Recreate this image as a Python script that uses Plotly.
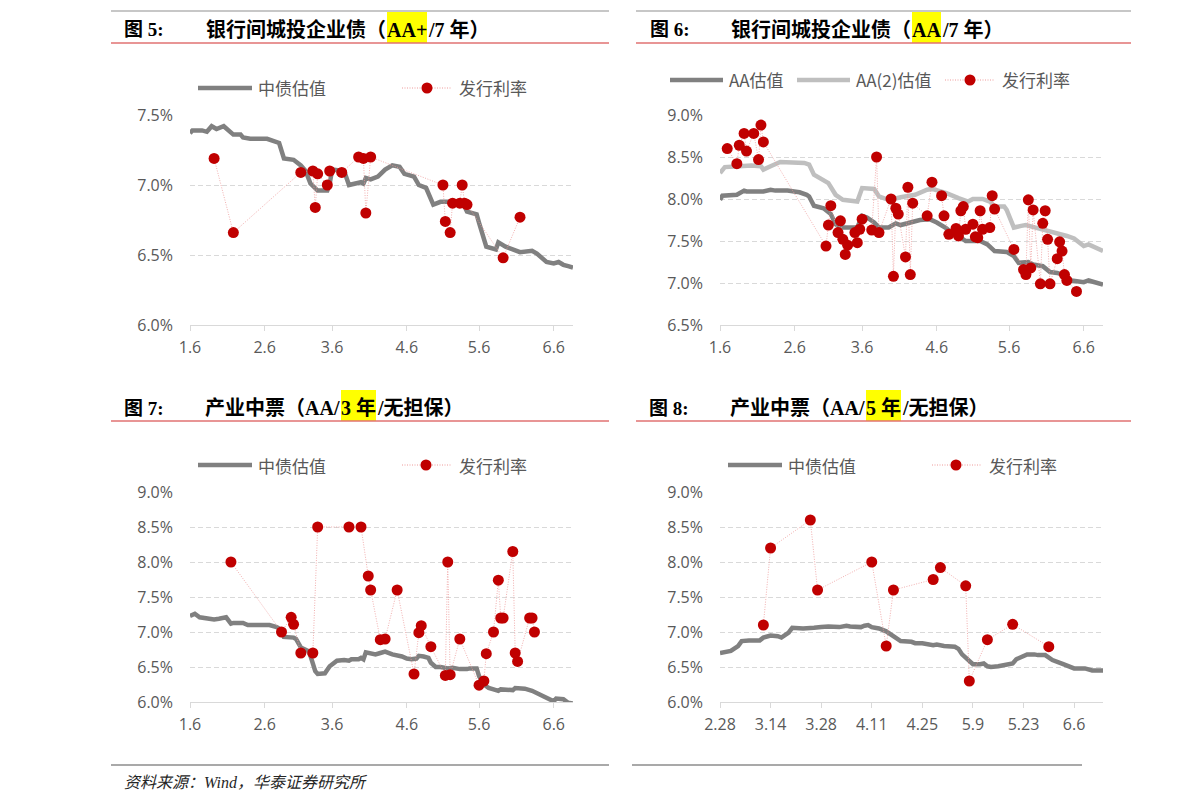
import plotly.graph_objects as go

YEAR = 2018
W, H = 1191, 811          # target picture size
PAGE_MARGIN = 8           # browser default body margin
FW, FH = W - 2 * PAGE_MARGIN, H - 2 * PAGE_MARGIN

# ---------------- data (values in %) ----------------
# Fig 5: AA+ / 7Y
f5_val_dates = ["01-06","01-07","01-09","01-11","01-13","01-15","01-17","01-20","01-24","01-27","01-28","01-31",
                "02-07","02-11","02-12","02-14","02-18","02-21","02-23","02-25","02-28","03-04","03-05","03-06",
                "03-11","03-13","03-17","03-18","03-19","03-20","03-22","03-25","03-28","03-31","04-03","04-05",
                "04-09","04-11","04-14","04-17","04-20","04-29","05-01","05-05","05-06","05-09","05-13","05-14",
                "05-17","05-23","05-28","05-30","06-03","06-06","06-08","06-10","06-12","06-14"]
f5_val = [7.37,7.39,7.39,7.39,7.38,7.42,7.40,7.42,7.36,7.36,7.34,7.33,
          7.33,7.31,7.30,7.19,7.18,7.14,7.10,7.01,6.96,6.96,7.01,7.11,
          7.10,7.00,7.01,7.02,7.01,7.05,7.04,7.06,7.11,7.14,7.13,7.08,
          7.06,7.00,6.98,6.86,6.88,6.88,6.81,6.79,6.73,6.56,6.54,6.59,
          6.56,6.52,6.53,6.51,6.45,6.44,6.45,6.43,6.42,6.41]
f5_iss_dates = ["01-16","01-24","02-21","02-26","02-27","02-28","03-04","03-05","03-10","03-17","03-19","03-20",
                "03-22","04-21","04-22","04-24","04-25","04-28","04-29","04-30","05-01","05-16","05-23"]
f5_iss = [7.19,6.66,7.09,7.10,6.84,7.08,7.00,7.10,7.09,7.20,7.19,6.80,
          7.20,7.00,6.74,6.66,6.87,6.87,7.00,6.87,6.86,6.48,6.77]

# Fig 6: AA / 7Y
f6_aa_dates = ["01-06","01-07","01-13","01-14","01-16","01-17","01-23","01-24","01-27","01-29","02-03","02-08",
               "02-11","02-12","02-14","02-18","02-21","02-23","02-25","03-04","03-06","03-08","03-11","03-13",
               "03-17","03-19","03-20","03-22","03-26","03-30","04-03","04-06","04-10","04-12","04-15","04-17",
               "04-18","04-24","04-27","04-30","05-05","05-08","05-10","05-14","05-16","05-20","05-23","05-26",
               "05-29","06-01","06-06","06-08","06-11","06-14"]
f6_aa = [7.99,8.04,8.05,8.07,8.10,8.09,8.10,8.09,8.11,8.10,8.10,8.08,
         8.05,8.03,7.92,7.89,7.82,7.70,7.66,7.66,7.80,7.78,7.72,7.66,
         7.66,7.69,7.71,7.69,7.72,7.75,7.76,7.72,7.65,7.60,7.56,7.52,
         7.50,7.50,7.46,7.38,7.37,7.32,7.24,7.25,7.22,7.20,7.13,7.12,
         7.09,7.03,7.01,7.03,7.00,6.98]
f6_aa2_dates = ["01-06","01-08","01-14","01-19","01-23","01-24","01-27","01-31","02-10","02-12","02-14","02-16",
                "02-20","02-23","02-26","03-04","03-05","03-06","03-11","03-13","03-16","03-19","03-22","03-28",
                "04-02","04-04","04-10","04-13","04-15","04-19","04-21","04-25","04-28","04-30","05-04","05-05",
                "05-08","05-11","05-13","05-17","05-23","05-27","05-30","06-02","06-06","06-08","06-11","06-14"]
f6_aa2 = [8.31,8.38,8.39,8.40,8.39,8.35,8.39,8.44,8.43,8.41,8.29,8.26,
          8.19,8.05,7.99,7.97,8.05,8.13,8.12,8.03,8.00,8.00,8.02,8.05,
          8.11,8.12,8.07,8.03,8.01,7.97,8.00,8.00,7.97,7.91,7.91,7.87,
          7.66,7.68,7.69,7.66,7.62,7.58,7.56,7.53,7.44,7.46,7.42,7.38]
f6_iss_dates = ["01-09","01-13","01-14","01-16","01-17","01-20","01-22","01-23","01-24","02-19","02-20","02-21",
                "02-24","02-25","02-26","02-27","02-28","03-03","03-04","03-05","03-06","03-10","03-12","03-13",
                "03-18","03-19","03-20","03-21","03-24","03-25","03-26","03-27","04-02","04-04","04-08","04-09",
                "04-11","04-14","04-15","04-16","04-17","04-18","04-21","04-22","04-23","04-24","04-25","04-28",
                "04-29","04-30","05-08","05-12","05-13","05-14","05-15","05-16","05-19","05-20","05-21","05-22",
                "05-23","05-26","05-27","05-28","05-29","05-30","06-03"]
f6_iss = [8.60,8.42,8.64,8.78,8.57,8.78,8.47,8.88,8.68,7.44,7.69,7.92,
          7.60,7.74,7.52,7.34,7.45,7.60,7.48,7.64,7.76,7.63,8.50,7.60,
          8.00,7.08,7.89,7.82,7.31,8.14,7.10,7.95,7.80,8.20,8.04,7.80,
          7.58,7.65,7.56,7.86,7.91,7.64,7.70,7.55,7.54,7.86,7.64,7.66,
          8.04,7.88,7.40,7.16,7.10,7.99,7.18,7.87,6.99,7.71,7.86,7.52,
          6.99,7.29,7.49,7.38,7.10,7.03,6.90]

# Fig 7: AA / 3Y, unsecured
f7_val_dates = ["01-06","01-08","01-10","01-13","01-16","01-18","01-21","01-23","01-24","01-28","01-30","02-08",
                "02-11","02-13","02-14","02-18","02-19","02-21","02-23","02-24","02-25","02-27","02-28","03-03",
                "03-05","03-07","03-08","03-11","03-13","03-14","03-17","03-18","03-19","03-20","03-22","03-24",
                "03-26","03-28","03-31","04-02","04-04","04-06","04-08","04-10","04-11","04-13","04-15","04-16",
                "04-18","04-20","04-23","04-25","04-28","05-01","05-02","05-05","05-06","05-08","05-10","05-12",
                "05-14","05-15","05-20","05-21","05-23","05-25","05-28","05-31","06-03","06-06","06-07","06-10",
                "06-12","06-14"]
f7_val = [7.23,7.26,7.21,7.19,7.18,7.19,7.21,7.12,7.13,7.13,7.10,7.10,
          7.07,7.03,6.93,6.92,6.90,6.78,6.74,6.73,6.66,6.44,6.40,6.41,
          6.51,6.56,6.59,6.60,6.59,6.61,6.61,6.63,6.61,6.71,6.69,6.68,
          6.70,6.72,6.68,6.67,6.65,6.62,6.61,6.62,6.66,6.65,6.63,6.56,
          6.50,6.50,6.48,6.49,6.47,6.47,6.48,6.48,6.37,6.25,6.20,6.18,
          6.16,6.18,6.17,6.20,6.20,6.19,6.16,6.11,6.05,6.01,6.05,6.04,
          5.99,5.98]
f7_iss_dates = ["01-23","02-13","02-17","02-18","02-21","02-26","02-28","03-13","03-18","03-21","03-22","03-26",
                "03-28","04-02","04-09","04-11","04-12","04-16","04-22","04-23","04-24","04-28","05-06","05-08",
                "05-09","05-12","05-14","05-15","05-16","05-20","05-21","05-22","05-27","05-28","05-29"]
f7_iss = [8.00,7.00,7.21,7.11,6.70,6.70,8.50,8.50,8.50,7.80,7.60,6.89,
          6.90,7.60,6.40,6.99,7.09,6.79,6.38,8.00,6.39,6.90,6.24,6.30,
          6.69,7.00,7.74,7.20,7.20,8.15,6.70,6.58,7.20,7.20,7.00]

# Fig 8: AA / 5Y, unsecured
f8_val_dates = ["02-28","03-02","03-03","03-05","03-06","03-08","03-11","03-12","03-14","03-16","03-17","03-19",
                "03-20","03-23","03-25","03-26","03-28","03-30","04-02","04-04","04-05","04-08","04-09","04-10",
                "04-11","04-13","04-15","04-16","04-18","04-19","04-22","04-23","04-25","04-28","04-29","04-30",
                "05-01","05-04","05-05","05-06","05-08","05-09","05-11","05-12","05-13","05-14","05-16","05-18",
                "05-20","05-21","05-23","05-24","05-26","05-27","05-29","05-30","05-31","06-03","06-05","06-06",
                "06-09","06-10","06-11","06-14"]
f8_val = [6.70,6.71,6.73,6.80,6.87,6.88,6.88,6.92,6.95,6.94,6.92,6.99,
          7.06,7.05,7.05,7.06,7.07,7.08,7.07,7.09,7.08,7.07,7.09,7.10,
          7.07,7.05,7.01,6.97,6.89,6.87,6.86,6.84,6.84,6.81,6.82,6.81,
          6.80,6.79,6.76,6.68,6.60,6.54,6.54,6.55,6.51,6.50,6.51,6.53,
          6.55,6.61,6.66,6.68,6.68,6.67,6.67,6.64,6.60,6.54,6.50,6.48,
          6.48,6.47,6.45,6.45]
f8_iss_dates = ["03-12","03-14","03-25","03-27","04-11","04-15","04-17","04-28","04-30","05-07","05-08","05-13",
                "05-20","05-30"]
f8_iss = [7.10,8.20,8.60,7.60,8.00,6.80,7.60,7.75,7.92,7.66,6.30,6.89,7.11,6.79]

# axis ticks
ticks_a = ["01-06","02-06","03-06","04-06","05-06","06-06"]
ticktext_a = ["1.6","2.6","3.6","4.6","5.6","6.6"]
ticks_b = ["02-28","03-14","03-28","04-11","04-25","05-09","05-23","06-06"]
ticktext_b = ["2.28","3.14","3.28","4.11","4.25","5.9","5.23","6.6"]

titles = [
    ("图 5:", "银行间城投企业债（", "AA+", "/7 年）"),
    ("图 6:", "银行间城投企业债（", "AA", "/7 年）"),
    ("图 7:", "产业中票（AA/", "3 年", "/无担保）"),
    ("图 8:", "产业中票（AA/", "5 年", "/无担保）"),
]
legend_val = "中债估值"
legend_iss = "发行利率"
source_text = "资料来源：Wind，华泰证券研究所"


def D(lst):
    return [f"{YEAR}-{d}" for d in lst]


# ---------------- style ----------------
GRAY = "#808080"
LGRAY = "#bfbfbf"
RED = "#c00000"
DOT = "#ee9a9a"
TXT = "#595959"
TICKFONT = dict(family="Open Sans, Noto Sans CJK SC", size=16, color=TXT)
LEGFONT = dict(family="Noto Sans CJK SC", size=17, color=TXT)
LABELFONT = dict(family="Liberation Serif, Noto Sans CJK SC", size=19, color="#000000", weight="bold")
TITLEFONT = dict(family="Liberation Serif, Noto Sans CJK SC", size=20, color="#000000", weight="bold")


# screen-pixel -> paper coordinates (figure sits inside the page margin)
def px(x):
    return (x - PAGE_MARGIN) / FW


def py(y):
    return 1 - (y - PAGE_MARGIN) / FH


fig = go.Figure()


def add_line(x, y, color, ax):
    fig.add_trace(go.Scatter(x=D(x), y=y, mode="lines", line=dict(color=color, width=4.5),
                             xaxis="x" + ax, yaxis="y" + ax, showlegend=False, hoverinfo="skip"))


def add_iss(x, y, ax):
    fig.add_trace(go.Scatter(x=D(x), y=y, mode="lines+markers",
                             line=dict(color=DOT, width=0.8, dash="1px,1.5px"),
                             marker=dict(size=11, color=RED),
                             cliponaxis=False,
                             xaxis="x" + ax, yaxis="y" + ax, showlegend=False, hoverinfo="skip"))


add_line(f5_val_dates, f5_val, GRAY, "")
add_iss(f5_iss_dates, f5_iss, "")
add_line(f6_aa_dates, f6_aa, GRAY, "2")
add_line(f6_aa2_dates, f6_aa2, LGRAY, "2")
add_iss(f6_iss_dates, f6_iss, "2")
add_line(f7_val_dates, f7_val, GRAY, "3")
add_iss(f7_iss_dates, f7_iss, "3")
add_line(f8_val_dates, f8_val, GRAY, "4")
add_iss(f8_iss_dates, f8_iss, "4")

# panel geometry (screen pixels)
LEFT = (190, 573)
RIGHT = (720, 1103)
TOP = (115, 325)
BOT = (492, 702)

panels = [
    dict(xd=LEFT, yd=TOP, yr=[6.0, 7.5], xr=["01-06", "06-14"], tv=ticks_a, tt=ticktext_a),
    dict(xd=RIGHT, yd=TOP, yr=[6.5, 9.0], xr=["01-06", "06-14"], tv=ticks_a, tt=ticktext_a),
    dict(xd=LEFT, yd=BOT, yr=[6.0, 9.0], xr=["01-06", "06-14"], tv=ticks_a, tt=ticktext_a),
    dict(xd=RIGHT, yd=BOT, yr=[6.0, 9.0], xr=["02-28", "06-14"], tv=ticks_b, tt=ticktext_b),
]

layout = dict(width=FW, height=FH, margin=dict(l=0, r=0, t=0, b=0, pad=0, autoexpand=False),
              autosize=False,
              paper_bgcolor="white", plot_bgcolor="white", showlegend=False)
for i, p in enumerate(panels):
    s = "" if i == 0 else str(i + 1)
    layout["xaxis" + s] = dict(
        domain=[px(p["xd"][0]), px(p["xd"][1])], anchor="y" + s, type="date",
        range=D(p["xr"]), tickvals=D(p["tv"]), ticktext=p["tt"],
        showgrid=False, zeroline=False, showline=True, linecolor="#d9d9d9", linewidth=1,
        ticks="outside", ticklen=5, tickcolor="#d9d9d9", tickfont=TICKFONT,
        ticklabelstandoff=3, automargin=False, fixedrange=True)
    layout["yaxis" + s] = dict(
        domain=[py(p["yd"][1]), py(p["yd"][0])], anchor="x" + s, range=p["yr"],
        tick0=6.0, dtick=0.5, tickformat=".1f", ticksuffix="%",
        showgrid=True, gridcolor="#d9d9d9", gridwidth=1, griddash="5px,3px",
        zeroline=False, showline=False, ticks="", tickfont=TICKFONT,
        ticklabelstandoff=16, automargin=False, fixedrange=True)
fig.update_layout(**layout)

shapes = []
annotations = []


def hline(x0, x1, y, color, width, dash="solid"):
    shapes.append(dict(type="line", xref="paper", yref="paper", x0=px(x0), x1=px(x1),
                       y0=py(y), y1=py(y), line=dict(color=color, width=width, dash=dash)))


def text(x, y, s, font, xanchor="left", **kw):
    annotations.append(dict(xref="paper", yref="paper", x=px(x), y=py(y), text=s, showarrow=False,
                            xanchor=xanchor, yanchor="middle", font=font, borderpad=0, **kw))


def circle(cx, cy, r, color):
    shapes.append(dict(type="circle", xref="paper", yref="paper",
                       x0=px(cx - r), x1=px(cx + r), y0=py(cy + r), y1=py(cy - r),
                       fillcolor=color, line=dict(width=0)))


# titles: (label x, highlight x0, x1, text y, box top)
title_pos = [(123, 387, 427, 30, 12), (649, 912, 941, 30, 12),
             (123, 341, 376, 408, 390), (648, 866, 901, 408, 390)]
for (lab, left, hl, right), (lx, h0, h1, ty, btop) in zip(titles, title_pos):
    shapes.append(dict(type="rect", xref="paper", yref="paper", layer="below",
                       x0=px(h0), x1=px(h1), y0=py(btop + 31), y1=py(btop),
                       fillcolor="#ffff00", line=dict(width=0)))
    text(lx, ty, lab, LABELFONT)
    text(h0, ty, left, TITLEFONT, xanchor="right")
    text((h0 + h1) / 2, ty, hl, TITLEFONT, xanchor="center")
    text(h1, ty, right, TITLEFONT)

# header / footer rules
for (a, b) in [(111, 609), (636, 1131)]:
    hline(a, b, 11, "#b4b4b4", 1.5)
    hline(a, b, 43, "#e07272", 1.5)
    hline(a, b, 421, "#e07272", 1.5)
hline(111, 609, 765, "#8c8c8c", 1.5)
hline(632, 1082, 765, "#8c8c8c", 1.5)

# legends
# panel 5
hline(198, 252, 88, GRAY, 4.5)
text(257, 88, legend_val, LEGFONT)
hline(402, 452, 88, DOT, 1, "1px,1.5px")
circle(427, 88, 5.5, RED)
text(458, 88, legend_iss, LEGFONT)
# panel 6
hline(670, 723, 80, GRAY, 4.5)
text(728, 80, "AA估值", LEGFONT)
hline(797, 850, 80, LGRAY, 4.5)
text(855, 80, "AA(2)估值", LEGFONT)
hline(945, 995, 80, DOT, 1, "1px,1.5px")
circle(970, 80, 5.5, RED)
text(1001, 80, legend_iss, LEGFONT)
# panel 7
hline(198, 252, 465, GRAY, 4.5)
text(257, 465, legend_val, LEGFONT)
hline(402, 452, 465, DOT, 1, "1px,1.5px")
circle(426, 465, 5.5, RED)
text(458, 465, legend_iss, LEGFONT)
# panel 8
hline(728, 782, 465, GRAY, 4.5)
text(787, 465, legend_val, LEGFONT)
hline(932, 982, 465, DOT, 1, "1px,1.5px")
circle(956, 465, 5.5, RED)
text(988, 465, legend_iss, LEGFONT)

# source
text(123, 782, source_text,
     dict(family="Liberation Serif, Noto Sans CJK SC", size=16, color="#262626", style="italic"))

fig.update_layout(shapes=shapes, annotations=annotations)
fig.write_html("out.html")
